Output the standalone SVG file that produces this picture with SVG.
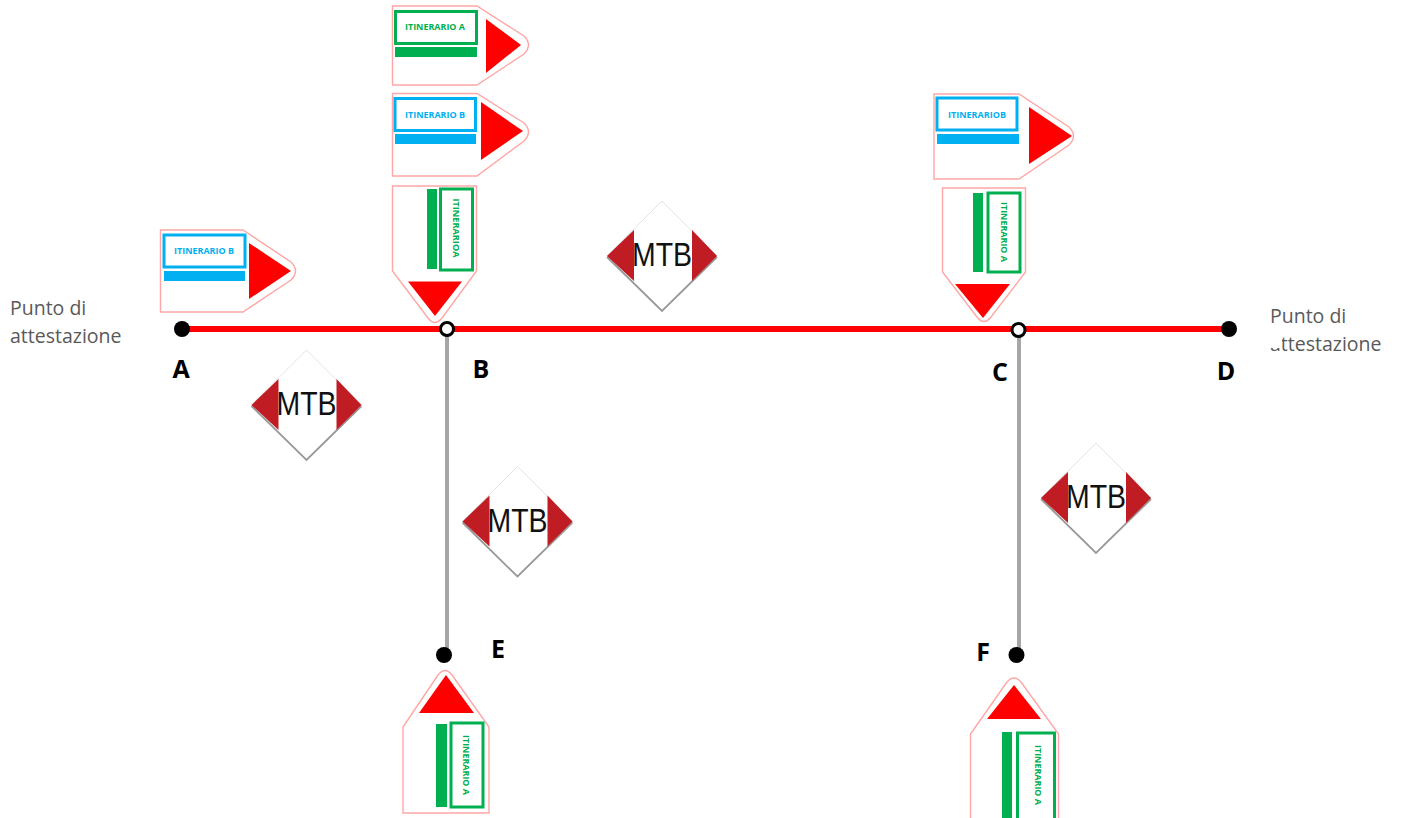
<svg xmlns="http://www.w3.org/2000/svg" width="1403" height="818" viewBox="0 0 1403 818">
<style>
.out{fill:#fff;stroke:#ffa6a6;stroke-width:1.4}
.tri{fill:#f00}
.g{fill:#00b050}
.b{fill:#00b0f0}
.gb{fill:#fff;stroke:#00b050;stroke-width:3}
.bb{fill:#fff;stroke:#00b0f0;stroke-width:3}
.st{font-family:"Open Sans","Liberation Sans",sans-serif;font-weight:700;font-size:9.5px;text-anchor:middle;dominant-baseline:central}
.gt{fill:#00b050}
.bt{fill:#00b0f0}
.lab{font-family:"Open Sans","Liberation Sans",sans-serif;font-weight:700;font-size:25px;fill:#000;text-anchor:middle}
.pt{font-family:"Open Sans","Liberation Sans",sans-serif;font-size:19.500px;fill:#595959}
.dot{fill:#000}
.open{fill:#fff;stroke:#000;stroke-width:3}
.dia{fill:#fff;stroke:#dcdcdc;stroke-width:.8}
.sh{fill:none;stroke:#999;stroke-width:1.8}
.red{fill:#c01c24}
.mtb{font-family:"Liberation Sans",Arial,sans-serif;font-size:34px;fill:#111;text-anchor:middle}
</style>
<defs>
<g id="mtbsign">
<path class="dia" d="M0-55L55 0L0 55L-55 0Z"/>
<path class="sh" d="M-55 1L0 55L55 1"/>
<path class="red" d="M-55 0L-28-26V25Z"/>
<path class="red" d="M55 0L30-26V25Z"/>
<text class="mtb" x="0" y="10" textLength="60" lengthAdjust="spacingAndGlyphs">MTB</text>
</g>
</defs>
<g id="connectors" fill="none">
<path d="M447 329V655" stroke="#a6a6a6" stroke-width="4"/>
<path d="M1019 329V655" stroke="#a6a6a6" stroke-width="4"/>
<path d="M182 329H1229" stroke="#f00" stroke-width="6"/>
</g>
<g id="sign-a1">
<path class="out" d="M392.500 6H477L524 36Q533 45 524 54L477 85H392.500Z"/>
<rect class="gb" x="395.500" y="11.500" width="81" height="32"/>
<rect class="g" x="395" y="47" width="82" height="10"/>
<path class="tri" d="M486 19V73L521 45Z"/>
<text class="st gt" x="435" y="26.500" textLength="60" lengthAdjust="spacingAndGlyphs">ITINERARIO A</text>
</g>
<g id="sign-b1">
<path class="out" d="M392.500 93.500H477L524 123Q533 132 524 141L477 176H392.500Z"/>
<rect class="bb" x="395" y="98.500" width="80.500" height="32"/>
<rect class="b" x="395" y="134" width="81" height="10"/>
<path class="tri" d="M481 102V160L523 131Z"/>
<text class="st bt" x="435" y="114.500" textLength="60" lengthAdjust="spacingAndGlyphs">ITINERARIO B</text>
</g>
<g id="sign-a2">
<path class="out" d="M392.500 186H476.500V271L442 318Q435 327 428 318L392.500 271Z"/>
<rect class="g" x="427" y="189" width="10" height="80"/>
<rect class="gb" x="440.500" y="189" width="32" height="81"/>
<path class="tri" d="M408 281.500H462L435 316Z"/>
<text class="st gt" transform="translate(456 228) rotate(90)" textLength="59" lengthAdjust="spacingAndGlyphs">ITINERARIOA</text>
</g>
<g id="sign-b2">
<path class="out" d="M160.500 230H243L291 262Q300 271 291 280L243 312H160.500Z"/>
<rect class="bb" x="164" y="235" width="81" height="32"/>
<rect class="b" x="164" y="271" width="81" height="10"/>
<path class="tri" d="M249 243V299L291 271Z"/>
<text class="st bt" x="204" y="250.500" textLength="60" lengthAdjust="spacingAndGlyphs">ITINERARIO B</text>
</g>
<g id="sign-b3">
<path class="out" d="M934 94H1019L1069 127Q1078 136 1069 145L1019 179H934Z"/>
<rect class="bb" x="937" y="98" width="80" height="32"/>
<rect class="b" x="937" y="134" width="82" height="10"/>
<path class="tri" d="M1029 107V164L1072 136Z"/>
<text class="st bt" x="977" y="114" textLength="58" lengthAdjust="spacingAndGlyphs">ITINERARIOB</text>
</g>
<g id="sign-a3">
<path class="out" d="M942.500 188H1025.500V272L991 317Q984 326 977 317L942.500 272Z"/>
<rect class="g" x="973" y="193" width="10" height="79"/>
<rect class="gb" x="988" y="193" width="32" height="79"/>
<path class="tri" d="M955 284H1010L983 318Z"/>
<text class="st gt" transform="translate(1004 232) rotate(90)" textLength="60" lengthAdjust="spacingAndGlyphs">ITINERARIO A</text>
</g>
<g id="sign-a4">
<path class="out" d="M403 813V727L438 675Q445 666 452 675L489 727V813Z"/>
<rect class="g" x="436" y="724" width="11" height="83"/>
<rect class="gb" x="451" y="723" width="32" height="84"/>
<path class="tri" d="M419 713H474L446 675Z"/>
<text class="st gt" transform="translate(466 765) rotate(90)" textLength="60" lengthAdjust="spacingAndGlyphs">ITINERARIO A</text>
</g>
<g id="sign-a5">
<path class="out" d="M970.500 820V734L1007 682Q1014 674 1021 682L1058.500 734V820Z"/>
<rect class="g" x="1002" y="732" width="10" height="88"/>
<rect class="gb" x="1017.500" y="733" width="37" height="90"/>
<path class="tri" d="M987 719H1041L1014 685Z"/>
<text class="st gt" transform="translate(1038 775) rotate(90)" textLength="60" lengthAdjust="spacingAndGlyphs">ITINERARIO A</text>
</g>
<g id="mtb-1"><use href="#mtbsign" x="306.500" y="405"/></g>
<g id="mtb-2"><use href="#mtbsign" x="662" y="256"/></g>
<g id="mtb-3"><use href="#mtbsign" x="517.500" y="521.500"/></g>
<g id="mtb-4"><use href="#mtbsign" x="1096" y="498"/></g>
<g id="node-a"><circle class="dot" cx="182" cy="329" r="8"/><text class="lab" x="181" y="378">A</text></g>
<g id="node-b"><circle class="open" cx="447" cy="329" r="6.500"/><text class="lab" x="481" y="378">B</text></g>
<g id="node-c"><circle class="open" cx="1018.500" cy="330" r="6.500"/><text class="lab" x="1000" y="381">C</text></g>
<g id="node-d"><circle class="dot" cx="1229" cy="329" r="8"/><text class="lab" x="1226" y="380">D</text></g>
<g id="node-e"><circle class="dot" cx="444" cy="655" r="8"/><text class="lab" x="498" y="658">E</text></g>
<g id="node-f"><circle class="dot" cx="1016.500" cy="655" r="8"/><text class="lab" x="983" y="661">F</text></g>
<g id="label-left"><text class="pt" x="10" y="315">Punto di</text><text class="pt" x="10" y="343">attestazione</text></g>
<g id="label-right"><text class="pt" x="1270" y="323">Punto di</text><text class="pt" x="1270" y="351">attestazione</text><rect x="1266" y="333" width="16" height="15" fill="#fff"/></g>
</svg>
